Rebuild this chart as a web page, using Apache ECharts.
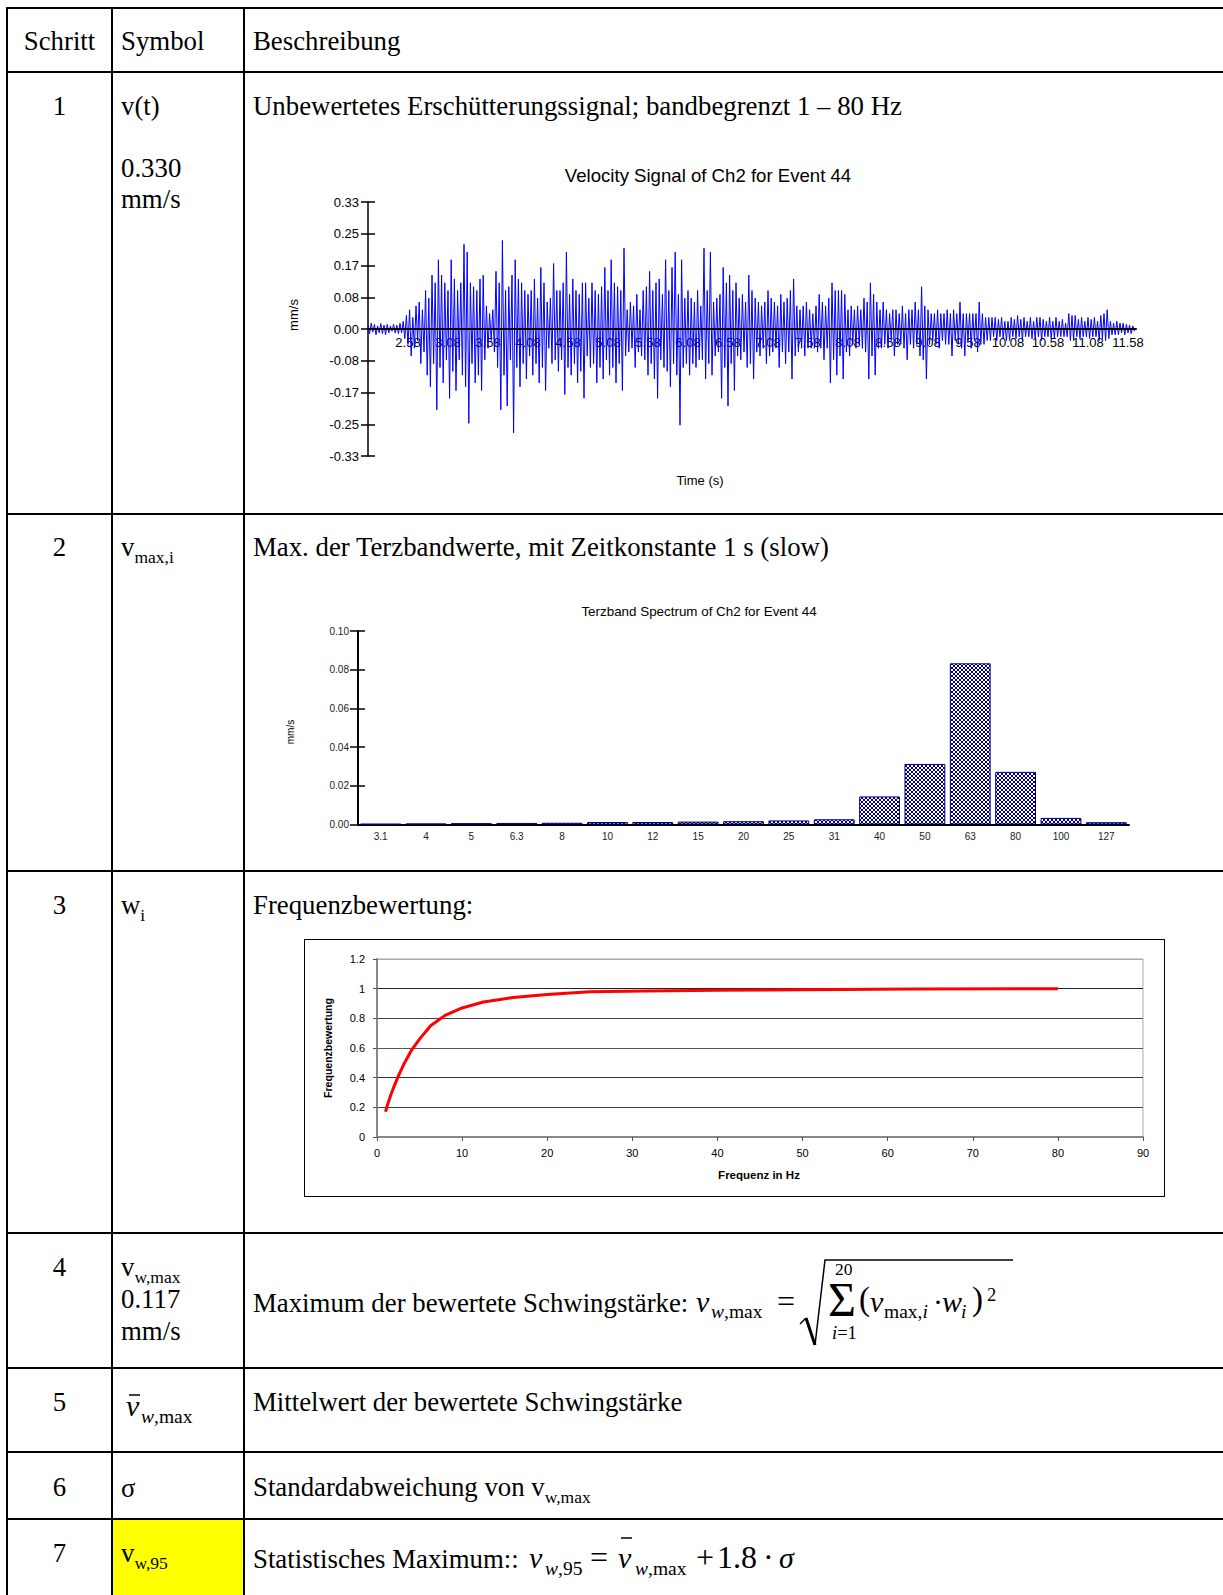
<!DOCTYPE html>
<html>
<head>
<meta charset="utf-8">
<script src="https://cdn.jsdelivr.net/npm/echarts@6.0.0/dist/echarts.min.js"></script>
<style>
  body { margin: 0; width: 1223px; height: 1595px; overflow: hidden; background: #fff; }
  #page { position: relative; width: 1223px; height: 1595px; }
  .h { position: absolute; left: 6px; right: 0; height: 2px; background: #000; }
  .v { position: absolute; top: 7px; bottom: 0; width: 2px; background: #000; }
  .t { position: absolute; font-family: 'Liberation Serif', 'Times New Roman', serif; font-size: 26.8px;
       line-height: 30px; white-space: nowrap; color: #000; }
  .c { left: 7px; width: 105px; text-align: center; }
  .s { left: 121px; }
  .d { left: 253px; }
  .sub { font-size: 17.5px; position: relative; top: 7px; }
  .f { position: absolute; font-family: 'Liberation Serif', 'Times New Roman', serif; white-space: nowrap; color: #000; }
  .i { font-style: italic; }
  #yellow { position: absolute; left: 113px; top: 1520px; width: 130px; height: 75px; background: #ffff00; }
  #box3 { position: absolute; left: 304px; top: 939px; width: 859px; height: 256px; border: 1.5px solid #000; }
  #math { position: absolute; left: 0; top: 0; }
  #chart { position: absolute; left: 0; top: 0; width: 1223px; height: 1595px; }
</style>
</head>
<body>
<div id="page">
  <div id="yellow"></div>

  <!-- table rules -->
  <div class="h" style="top:7px"></div>
  <div class="h" style="top:71px"></div>
  <div class="h" style="top:513px"></div>
  <div class="h" style="top:870px"></div>
  <div class="h" style="top:1232px"></div>
  <div class="h" style="top:1367px"></div>
  <div class="h" style="top:1451px"></div>
  <div class="h" style="top:1518px"></div>
  <div class="v" style="left:6px"></div>
  <div class="v" style="left:111px"></div>
  <div class="v" style="left:243px"></div>

  <!-- header -->
  <div class="t c" style="top:26px">Schritt</div>
  <div class="t s" style="top:26px">Symbol</div>
  <div class="t d" style="top:26px">Beschreibung</div>

  <!-- row 1 -->
  <div class="t c" style="top:91px">1</div>
  <div class="t s" style="top:91px">v(t)</div>
  <div class="t s" style="top:153px">0.330</div>
  <div class="t s" style="top:184px">mm/s</div>
  <div class="t d" style="top:91px">Unbewertetes Erschütterungssignal; bandbegrenzt 1 – 80 Hz</div>

  <!-- row 2 -->
  <div class="t c" style="top:532px">2</div>
  <div class="t s" style="top:532px">v<span class="sub">max,i</span></div>
  <div class="t d" style="top:532px">Max. der Terzbandwerte, mit Zeitkonstante 1 s (slow)</div>

  <!-- row 3 -->
  <div class="t c" style="top:890px">3</div>
  <div class="t s" style="top:890px">w<span class="sub">i</span></div>
  <div class="t d" style="top:890px">Frequenzbewertung:</div>

  <!-- row 4 -->
  <div class="t c" style="top:1252px">4</div>
  <div class="t s" style="top:1252px">v<span class="sub">w,max</span></div>
  <div class="t s" style="top:1284px">0.117</div>
  <div class="t s" style="top:1316px">mm/s</div>
  <div class="t d" style="top:1288px">Maximum der bewertete Schwingstärke:</div>

  <!-- row 5 -->
  <div class="t c" style="top:1387px">5</div>
  <div class="t d" style="top:1387px">Mittelwert der bewertete Schwingstärke</div>

  <!-- row 6 -->
  <div class="t c" style="top:1472px">6</div>
  <div class="t s" style="top:1473px">σ</div>
  <div class="t d" style="top:1472px">Standardabweichung von v<span class="sub">w,max</span></div>

  <!-- row 7 -->
  <div class="t c" style="top:1538px">7</div>
  <div class="t s" style="top:1538px">v<span class="sub">w,95</span></div>
  <div class="t d" style="top:1544px">Statistisches Maximum::</div>

  <svg id="math" width="1223" height="1595">
    <polyline points="800,1324 806,1318" fill="none" stroke="#000" stroke-width="1.5"/>
    <polyline points="806,1318 815,1345" fill="none" stroke="#000" stroke-width="3"/>
    <polyline points="815,1345 825,1260 1013,1260" fill="none" stroke="#000" stroke-width="1.5"/>
    <line x1="129" y1="1395" x2="140" y2="1395" stroke="#000" stroke-width="1.5"/>
    <line x1="621" y1="1538" x2="632" y2="1538" stroke="#000" stroke-width="1.5"/>
  </svg>

  <div id="box3"></div>
  <div id="chart"></div>
</div>

<script>
  // ---- data ----
  // velocity signal of Ch2, event 44 (mm/s), one value every 0.02 s from 2.08 s
  var timeStart = 2.08;
  var timeStep = 0.02;
  var velocity = [
    0.01, -0.012, 0.015, -0.008, 0.012, -0.015, 0.008, -0.01, 0.014, -0.012, 0.01, -0.015, 0.012, -0.01, 0.008, -0.006, 0.012, -0.01, 0.01, -0.012,
    0.015, -0.01, 0.02, -0.025, 0.035, -0.04, 0.05, -0.07, 0.03, -0.05, 0.06, -0.03, 0.07, -0.09, 0.05, -0.06, 0.1, -0.12, 0.08, -0.15,
    0.14, -0.09, 0.12, -0.21, 0.18, -0.1, 0.14, -0.14, 0.12, -0.08, 0.1, -0.18, 0.18, -0.11, 0.13, -0.16, 0.1, -0.08, 0.12, -0.12,
    0.22, -0.15, 0.2, -0.245, 0.12, -0.09, 0.11, -0.14, 0.1, -0.12, 0.13, -0.16, 0.14, -0.08, 0.06, -0.05, 0.04, -0.03, 0.05, -0.06,
    0.15, -0.1, 0.12, -0.21, 0.23, -0.12, 0.1, -0.2, 0.11, -0.08, 0.14, -0.27, 0.18, -0.1, 0.13, -0.15, 0.12, -0.09, 0.1, -0.13,
    0.09, -0.07, 0.1, -0.12, 0.13, -0.09, 0.08, -0.14, 0.16, -0.1, 0.12, -0.16, 0.07, -0.05, 0.08, -0.09, 0.17, -0.08, 0.1, -0.11,
    0.1, -0.08, 0.12, -0.17, 0.2, -0.1, 0.09, -0.12, 0.13, -0.09, 0.1, -0.14, 0.09, -0.11, 0.12, -0.18, 0.12, -0.07, 0.08, -0.1,
    0.12, -0.09, 0.1, -0.14, 0.09, -0.1, 0.11, -0.13, 0.16, -0.08, 0.1, -0.12, 0.18, -0.1, 0.12, -0.14, 0.11, -0.09, 0.1, -0.16,
    0.21, -0.07, 0.05, -0.06, 0.07, -0.05, 0.06, -0.1, 0.09, -0.06, 0.05, -0.07, 0.1, -0.08, 0.11, -0.12, 0.15, -0.09, 0.1, -0.13,
    0.12, -0.18, 0.13, -0.08, 0.09, -0.1, 0.18, -0.11, 0.1, -0.15, 0.16, -0.09, 0.2, -0.12, 0.09, -0.25, 0.18, -0.1, 0.08, -0.09,
    0.1, -0.12, 0.08, -0.09, 0.07, -0.1, 0.1, -0.08, 0.06, -0.08, 0.21, -0.13, 0.1, -0.09, 0.2, -0.12, 0.07, -0.07, 0.08, -0.06,
    0.09, -0.18, 0.16, -0.1, 0.12, -0.2, 0.14, -0.09, 0.1, -0.16, 0.12, -0.07, 0.08, -0.08, 0.09, -0.06, 0.07, -0.1, 0.14, -0.09,
    0.1, -0.13, 0.08, -0.06, 0.07, -0.07, 0.06, -0.05, 0.07, -0.09, 0.1, -0.07, 0.08, -0.06, 0.07, -0.05, 0.06, -0.1, 0.09, -0.06,
    0.07, -0.09, 0.08, -0.06, 0.1, -0.13, 0.13, -0.07, 0.06, -0.06, 0.05, -0.05, 0.06, -0.07, 0.07, -0.05, 0.05, -0.05, 0.04, -0.05,
    0.06, -0.06, 0.09, -0.05, 0.07, -0.08, 0.06, -0.05, 0.08, -0.14, 0.12, -0.08, 0.1, -0.12, 0.1, -0.07, 0.1, -0.13, 0.09, -0.06,
    0.05, -0.07, 0.06, -0.04, 0.05, -0.05, 0.06, -0.04, 0.05, -0.05, 0.08, -0.06, 0.07, -0.13, 0.12, -0.07, 0.09, -0.12, 0.07, -0.05,
    0.05, -0.05, 0.07, -0.04, 0.05, -0.05, 0.04, -0.03, 0.05, -0.07, 0.05, -0.04, 0.04, -0.04, 0.06, -0.05, 0.04, -0.08, 0.05, -0.04,
    0.05, -0.05, 0.07, -0.04, 0.05, -0.07, 0.11, -0.08, 0.06, -0.13, 0.05, -0.04, 0.04, -0.03, 0.04, -0.04, 0.05, -0.05, 0.04, -0.03,
    0.04, -0.04, 0.05, -0.04, 0.04, -0.07, 0.05, -0.03, 0.04, -0.04, 0.07, -0.05, 0.04, -0.07, 0.04, -0.03, 0.04, -0.05, 0.04, -0.03,
    0.04, -0.06, 0.07, -0.04, 0.04, -0.04, 0.03, -0.03, 0.03, -0.03, 0.03, -0.02, 0.03, -0.03, 0.025, -0.02, 0.03, -0.025, 0.02, -0.03,
    0.02, -0.03, 0.03, -0.02, 0.025, -0.025, 0.035, -0.02, 0.025, -0.03, 0.03, -0.02, 0.02, -0.02, 0.03, -0.025, 0.02, -0.025, 0.03, -0.02,
    0.03, -0.03, 0.025, -0.02, 0.02, -0.02, 0.03, -0.025, 0.02, -0.025, 0.03, -0.02, 0.02, -0.02, 0.025, -0.02, 0.015, -0.02, 0.04, -0.03,
    0.035, -0.03, 0.035, -0.02, 0.025, -0.025, 0.03, -0.02, 0.02, -0.02, 0.03, -0.025, 0.025, -0.02, 0.03, -0.02, 0.02, -0.03, 0.035, -0.025,
    0.04, -0.03, 0.05, -0.025, 0.02, -0.015, 0.015, -0.015, 0.02, -0.015, 0.015, -0.01, 0.015, -0.015, 0.012, -0.01, 0.01, -0.012, 0.008, -0.006
  ];
  var velTicks = ['-0.33', '-0.25', '-0.17', '-0.08', '0.00', '0.08', '0.17', '0.25', '0.33'];

  // terzband spectrum (mm/s)
  var bandLabels = ['3.1', '4', '5', '6.3', '8', '10', '12', '15', '20', '25', '31', '40', '50', '63', '80', '100', '127'];
  var bandValues = [0.0003, 0.0005, 0.0007, 0.0008, 0.0009, 0.0013, 0.0013, 0.0015, 0.0017, 0.0021, 0.0027,
                    0.0145, 0.0313, 0.0833, 0.0272, 0.0034, 0.0012];

  // frequency weighting
  var weightFreq = [1, 1.25, 1.6, 2, 2.5, 3.15, 4, 5, 6.3, 8, 10, 12.5, 16, 20, 25, 31.5, 40, 50, 63, 80];
  var weightValues = [0.17, 0.22, 0.28, 0.34, 0.41, 0.49, 0.58, 0.66, 0.75, 0.82, 0.87, 0.91, 0.94, 0.96,
                      0.98, 0.985, 0.99, 0.993, 0.997, 1.0];

  // ---- formula pieces (x, baseline, font size) ----
  function put(x, base, fs, html, cls) {
    var d = document.createElement('div');
    d.className = 'f' + (cls ? ' ' + cls : '');
    d.style.left = x + 'px';
    d.style.top = (base - 0.7125 * fs) + 'px';
    d.style.fontSize = fs + 'px';
    d.style.lineHeight = (0.75 * fs) + 'px';
    d.innerHTML = html;
    document.getElementById('page').insertBefore(d, document.getElementById('math'));
  }
  // row 4
  put(696, 1312, 30, 'v', 'i');
  put(711, 1319, 19.5, '<i>w</i>,max');
  put(777, 1312, 32, '=');
  put(835, 1275, 17.5, '20');
  put(828, 1316, 48, 'Σ');
  put(832, 1340, 18.5, '<i>i</i>=1');
  put(859, 1311, 33, '(');
  put(870, 1312, 30, 'v', 'i');
  put(884, 1319, 19.5, 'max,<i>i</i>');
  put(933, 1312, 30, '·');
  put(942, 1312, 30, 'w', 'i');
  put(961, 1319, 19.5, 'i', 'i');
  put(972, 1311, 33, ')');
  put(987, 1302, 18.5, '2');
  // row 5 symbol
  put(126, 1416, 30, 'v', 'i');
  put(141, 1424, 19.5, '<i>w</i>,max');
  // row 7
  put(529, 1568, 30, 'v', 'i');
  put(545, 1576, 19.5, '<i>w</i>,95');
  put(590, 1568, 32, '=');
  put(618, 1568, 30, 'v', 'i');
  put(635, 1576, 19.5, '<i>w</i>,max');
  put(696, 1568, 32, '+');
  put(717, 1568, 32, '1.8');
  put(763, 1568, 32, '·');
  put(779, 1568, 30, 'σ', 'i');

  // ---- charts ----
  function hatch() {
    var c = document.createElement('canvas');
    c.width = 4; c.height = 4;
    var g = c.getContext('2d');
    g.fillStyle = '#ffffff';
    g.fillRect(0, 0, 4, 4);
    g.strokeStyle = '#000080';
    g.lineWidth = 1;
    g.beginPath();
    g.moveTo(0, 0); g.lineTo(4, 4);
    g.moveTo(4, 0); g.lineTo(0, 4);
    g.stroke();
    return c.toDataURL();
  }

  var sans = "'Liberation Sans', Arial, sans-serif";
  var velMin = -0.33, velStep = 0.0825;
  var velData = velocity.map(function (v, i) { return [timeStart + i * timeStep, v]; });
  var weightData = weightFreq.map(function (f, i) { return [f, weightValues[i]]; });

  var chart = echarts.init(document.getElementById('chart'), null, { renderer: 'svg' });

  var option = {
    animation: false,
    textStyle: { fontFamily: sans },
    grid: [
      { left: 368, top: 202, width: 768, height: 254, outerBoundsMode: 'none' },
      { left: 358, top: 631, width: 771, height: 193.5, outerBoundsMode: 'none' },
      { left: 377, top: 959, width: 766, height: 178, outerBoundsMode: 'none',
        show: true, borderColor: '#aaa', borderWidth: 1, backgroundColor: 'transparent' }
    ],
    xAxis: [
      // time axis drawn through the zero line (127 px above the grid bottom)
      { gridIndex: 0, type: 'value', min: 2.08, max: 11.68, interval: 0.5, position: 'bottom', offset: -127,
        axisLine: { onZero: false, lineStyle: { color: '#000', width: 2 } },
        axisTick: { show: false },
        splitLine: { show: false },
        axisLabel: { fontSize: 13, color: '#000', margin: 7, showMinLabel: false, showMaxLabel: false,
          formatter: function (v) { return v.toFixed(2); } } },
      { gridIndex: 1, type: 'category', data: bandLabels, position: 'bottom',
        axisLine: { lineStyle: { color: '#000', width: 2 } },
        axisTick: { length: 5, interval: 0, lineStyle: { color: '#000', width: 1.5 } },
        axisLabel: { fontSize: 10, color: '#222', margin: 7, interval: 0 } },
      { gridIndex: 1, type: 'category', data: bandLabels, position: 'bottom',
        axisLine: { show: false },
        axisTick: { inside: true, length: 4, interval: 0, lineStyle: { color: '#000', width: 1.5 } },
        axisLabel: { show: false } },
      { gridIndex: 2, type: 'value', min: 0, max: 90, interval: 10,
        axisLine: { lineStyle: { color: '#888', width: 2 } },
        axisTick: { length: 4, lineStyle: { color: '#555' } },
        splitLine: { show: false },
        axisLabel: { fontSize: 11, color: '#000', margin: 10 } }
    ],
    yAxis: [
      { gridIndex: 0, type: 'value', min: velMin, max: 0.33, interval: velStep, position: 'left',
        axisLine: { show: true, lineStyle: { color: '#000', width: 1.5 } },
        axisTick: { show: true, length: 7, lineStyle: { color: '#000', width: 1.5 } },
        splitLine: { show: false },
        axisLabel: { fontSize: 13, color: '#000', margin: 9,
          formatter: function (v) { return velTicks[Math.round((v - velMin) / velStep)]; } } },
      { gridIndex: 0, type: 'value', min: velMin, max: 0.33, interval: velStep, position: 'left',
        axisLine: { show: false },
        axisTick: { show: true, inside: true, length: 7, lineStyle: { color: '#000', width: 1.5 } },
        splitLine: { show: false },
        axisLabel: { show: false } },
      { gridIndex: 1, type: 'value', min: 0, max: 0.1, interval: 0.02, position: 'left',
        axisLine: { show: true, lineStyle: { color: '#000', width: 2 } },
        axisTick: { show: true, length: 8, lineStyle: { color: '#000', width: 1.5 } },
        splitLine: { show: false },
        axisLabel: { fontSize: 10, color: '#222', margin: 9,
          formatter: function (v) { return v.toFixed(2); } } },
      { gridIndex: 1, type: 'value', min: 0, max: 0.1, interval: 0.02, position: 'left',
        axisLine: { show: false },
        axisTick: { show: true, inside: true, length: 7, lineStyle: { color: '#000', width: 1.5 } },
        splitLine: { show: false },
        axisLabel: { show: false } },
      { gridIndex: 2, type: 'value', min: 0, max: 1.2, interval: 0.2, position: 'left',
        axisLine: { show: true, lineStyle: { color: '#888', width: 2 } },
        axisTick: { show: true, length: 4, lineStyle: { color: '#555' } },
        splitLine: { show: true, lineStyle: { width: 1,
          color: ['#444', '#444', '#333', '#555', '#444', '#222', '#aaa'] } },
        axisLabel: { fontSize: 11, color: '#000', margin: 12 } }
    ],
    series: [
      { type: 'line', xAxisIndex: 0, yAxisIndex: 0, data: velData, showSymbol: false, silent: true,
        lineStyle: { color: '#0000ff', width: 1 },
        markLine: { silent: true, symbol: ['none', 'none'], label: { show: false },
          lineStyle: { color: '#000', width: 2, type: 'solid' }, data: [{ yAxis: 0 }] } },
      { type: 'bar', xAxisIndex: 1, yAxisIndex: 2, data: bandValues, barCategoryGap: '10%', silent: true,
        itemStyle: { color: { image: hatch(), repeat: 'repeat', imageWidth: 4, imageHeight: 4 },
          borderColor: '#000080', borderWidth: 1 } },
      { type: 'line', xAxisIndex: 3, yAxisIndex: 4, data: weightData, showSymbol: false, silent: true,
        lineStyle: { color: '#ff0000', width: 3 } }
    ],
    graphic: { elements: [
      { type: 'text', x: 708, y: 175, style: { text: 'Velocity Signal of Ch2 for Event 44', fontSize: 18.6,
        fontFamily: sans, fill: '#000', align: 'center', verticalAlign: 'middle' } },
      { type: 'text', x: 293, y: 315, rotation: Math.PI / 2, style: { text: 'mm/s', fontSize: 13,
        fontFamily: sans, fill: '#000', align: 'center', verticalAlign: 'middle' } },
      { type: 'text', x: 700, y: 480, style: { text: 'Time (s)', fontSize: 13,
        fontFamily: sans, fill: '#000', align: 'center', verticalAlign: 'middle' } },
      { type: 'text', x: 699, y: 611, style: { text: 'Terzband Spectrum of Ch2 for Event 44', fontSize: 13.4,
        fontFamily: sans, fill: '#000', align: 'center', verticalAlign: 'middle' } },
      { type: 'text', x: 290, y: 732, rotation: Math.PI / 2, style: { text: 'mm/s', fontSize: 10,
        fontFamily: sans, fill: '#000', align: 'center', verticalAlign: 'middle' } },
      { type: 'text', x: 328, y: 1048, rotation: Math.PI / 2, style: { text: 'Frequenzbewertung', fontSize: 10.5,
        fontWeight: 'bold', fontFamily: sans, fill: '#000', align: 'center', verticalAlign: 'middle' } },
      { type: 'text', x: 759, y: 1175, style: { text: 'Frequenz in Hz', fontSize: 11.5,
        fontWeight: 'bold', fontFamily: sans, fill: '#000', align: 'center', verticalAlign: 'middle' } }
    ] }
  };

  chart.setOption(option);
</script>
</body>
</html>
